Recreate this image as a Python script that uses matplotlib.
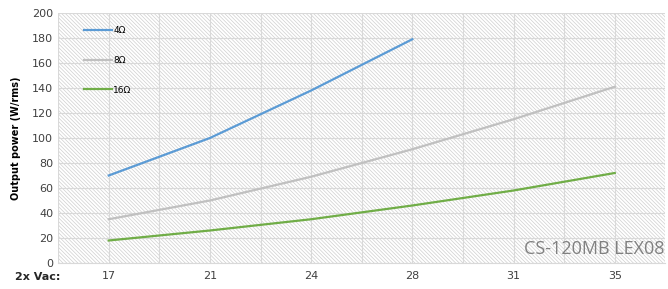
import numpy as np
import matplotlib.pyplot as plt
from matplotlib.patches import Rectangle

vac = ["17", "21", "24", "28", "31", "35"]
p_4ohm = [70, 100, 138, 179]
p_8ohm = [35, 50, 69, 91, 115, 141]
p_16ohm = [18, 26, 35, 46, 58, 72]

plt.rcParams['hatch.linewidth'] = 0.5
plt.rcParams['hatch.color'] = '#cfcfcf'

fig = plt.figure(figsize=(6.68, 2.89), dpi=100)
ax = fig.add_axes([0.087, 0.09, 0.909, 0.865])

x = np.arange(len(vac))

# hatched plot area background
bg = Rectangle((0, 0), 1, 1, transform=ax.transAxes, facecolor='white',
               edgecolor='#cfcfcf', hatch='\\' * 9, linewidth=0, zorder=0)
ax.add_patch(bg)

ax.plot(x[:len(p_4ohm)], p_4ohm, color='#5b9bd5', lw=1.6, label='4Ω', zorder=3)
ax.plot(x, p_8ohm, color='#c0c0c0', lw=1.6, label='8Ω', zorder=3)
ax.plot(x, p_16ohm, color='#70ad47', lw=1.6, label='16Ω', zorder=3)

ax.set_xlim(-0.5, len(vac) - 0.5)
ax.set_ylim(0, 200)
ax.set_yticks(range(0, 201, 20))
ax.set_xticks(x)
ax.set_xticklabels(vac)
ax.set_xticks(np.arange(-0.5, len(vac), 1.0), minor=True)
ax.grid(True, which='both', axis='x', color='#d9d9d9', lw=0.8, zorder=1)
ax.grid(True, which='major', axis='y', color='#d9d9d9', lw=0.8, zorder=1)
ax.tick_params(which='both', length=0, labelsize=8, labelcolor='#404040')
ax.tick_params(axis='x', pad=6)
for s in ax.spines.values():
    s.set_visible(False)
ax.spines['bottom'].set_visible(True)
ax.spines['bottom'].set_color('#d9d9d9')

ax.set_ylabel('Output power (W/rms)', fontsize=7, fontweight='bold', labelpad=8)
fig.text(0.022, 0.03, '2x Vac:', fontsize=8, fontweight='bold', color='#262626')

ax.legend(loc='upper left', bbox_to_anchor=(0.03, 0.98), frameon=False,
          fontsize=6.5, handlelength=3.0, handletextpad=0.2, labelspacing=2.3)

ax.text(0.998, 0.02, 'CS-120MB LEX08', transform=ax.transAxes, ha='right',
        va='bottom', fontsize=13, color='#808080', family='Open Sans', zorder=4)

fig.savefig('out.png', dpi=100)
